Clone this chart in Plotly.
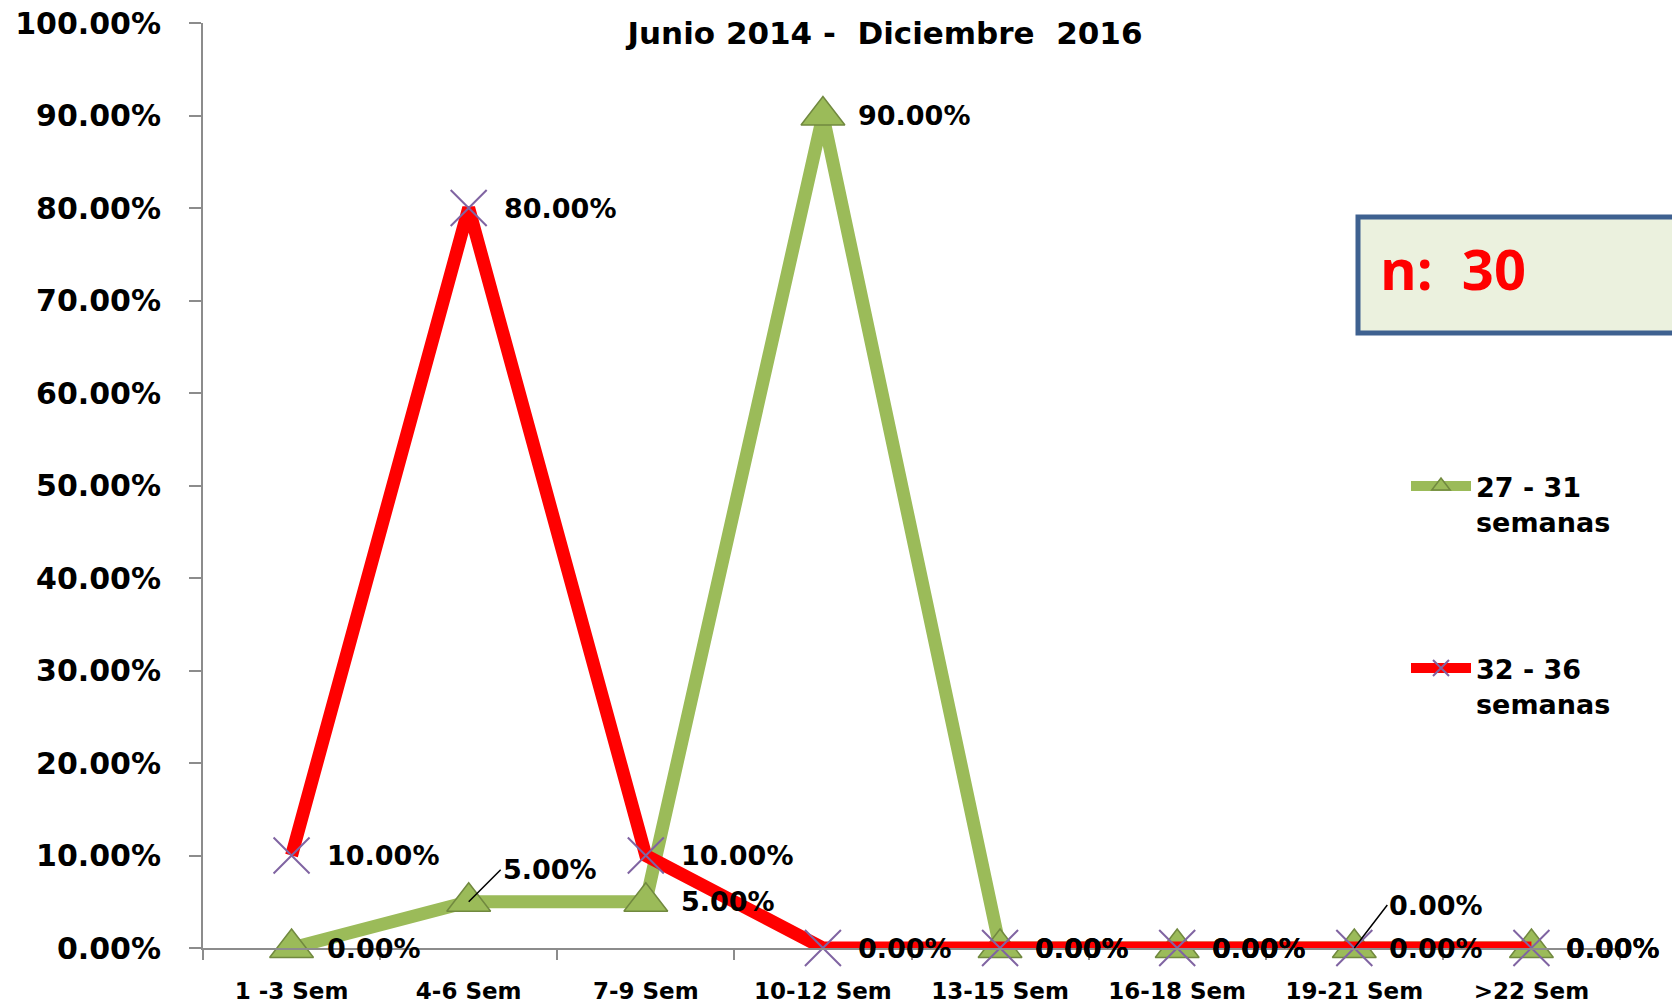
import plotly.graph_objects as go

# Categories (weeks) and share of cases for each gestational-age group
categories = ["1 -3 Sem", "4-6 Sem", "7-9 Sem", "10-12 Sem",
              "13-15 Sem", "16-18 Sem", "19-21 Sem", ">22 Sem"]
semanas_27_31 = [0.00, 0.05, 0.05, 0.90, 0.00, 0.00, 0.00, 0.00]
semanas_32_36 = [0.10, 0.80, 0.10, 0.00, 0.00, 0.00, 0.00, 0.00]
series_names = ["27 - 31<br>semanas", "32 - 36<br>semanas"]
title_text = "Junio 2014 -\u00a0 Diciembre\u00a0 2016"
sample_note = "n:\u00a0 30"

GREEN = "#9BBB59"
GREEN_EDGE = "#71893F"
RED = "#FF0000"
PURPLE = "#8064A2"
AXIS = "#8C8C8C"
FONT = "DejaVu Sans"

fig = go.Figure()
fig.add_trace(go.Scatter(
    x=categories, y=semanas_27_31, name=series_names[0], mode="lines+markers",
    line=dict(color=GREEN, width=13),
    marker=dict(symbol="triangle-up", size=38, color=GREEN,
                line=dict(color=GREEN_EDGE, width=1.5)),
    cliponaxis=False, legend="legend", showlegend=True,
))
fig.add_trace(go.Scatter(
    x=categories, y=semanas_32_36, name=series_names[1], mode="lines+markers",
    line=dict(color=RED, width=13),
    marker=dict(symbol="x-thin", size=36, color=PURPLE,
                line=dict(color=PURPLE, width=2)),
    cliponaxis=False, legend="legend2", showlegend=True,
))

# Data labels: placed to the right of each point; a few use a leader line
label_font = dict(family=FONT, size=27, color="black", weight="bold")
leaders = {(0, 1): (32, -32), (0, 6): (33, -43)}
for s, values in enumerate([semanas_27_31, semanas_32_36]):
    for i, v in enumerate(values):
        text = f"{v * 100:.2f}%"
        if (s, i) in leaders:
            ax, ay = leaders[(s, i)]
            fig.add_annotation(x=categories[i], y=v, text=text, showarrow=True,
                               arrowhead=0, arrowwidth=1.5, arrowcolor="black",
                               standoff=0, ax=ax, ay=ay, xanchor="left",
                               yanchor="middle", font=label_font)
        else:
            fig.add_annotation(x=categories[i], y=v, text=text, showarrow=False,
                               xanchor="left", yanchor="middle", xshift=33,
                               font=label_font)

# Sample size box
plot_l, plot_r, plot_t, plot_b = 203, 1620, 23, 948
def px_x(p):
    return (p - plot_l) / (plot_r - plot_l)
def px_y(p):
    return (plot_b - p) / (plot_b - plot_t)

fig.add_shape(type="rect", xref="paper", yref="paper",
              x0=px_x(1358), x1=px_x(1690), y0=px_y(333), y1=px_y(217),
              line=dict(color="#3E6190", width=5), fillcolor="#EBF1DE", layer="above")
fig.add_annotation(xref="paper", yref="paper", x=px_x(1378), y=px_y(268),
                   text=sample_note, showarrow=False, xanchor="left", yanchor="middle",
                   font=dict(family="Open Sans", size=56, color=RED, weight="bold"))

legend_common = dict(
    xanchor="left", yanchor="top", bgcolor="rgba(0,0,0,0)", valign="top",
    itemwidth=60, font=dict(family=FONT, size=27, color="black", weight="bold"),
)
fig.update_layout(
    width=1672, height=1004,
    showlegend=True,
    margin=dict(l=plot_l, r=1672 - plot_r, t=plot_t, b=1004 - plot_b),
    paper_bgcolor="white", plot_bgcolor="white",
    title=dict(text=title_text, x=885 / 1672, xanchor="center",
               y=1 - 33 / 1004, yanchor="middle",
               font=dict(family=FONT, size=31, color="black", weight="bold")),
    xaxis=dict(type="category", range=[-0.5, 7.5], tickson="boundaries",
               ticks="outside", ticklen=10, tickwidth=2, tickcolor=AXIS,
               showline=True, linecolor=AXIS, linewidth=2, showgrid=False,
               automargin=False, ticklabelstandoff=21,
               tickfont=dict(family=FONT, size=23, color="black", weight="bold")),
    yaxis=dict(range=[0, 1], dtick=0.1, tickformat=".2%", ticks="outside",
               ticklen=12, tickwidth=2, tickcolor=AXIS, showline=True,
               linecolor=AXIS, linewidth=2, showgrid=False, zeroline=False,
               automargin=False, ticklabelstandoff=22,
               tickfont=dict(family=FONT, size=30, color="black", weight="bold")),
    legend=dict(x=px_x(1406), y=px_y(462), **legend_common),
    legend2=dict(x=px_x(1406), y=px_y(644), **legend_common),
)

fig.write_html("out.html")
